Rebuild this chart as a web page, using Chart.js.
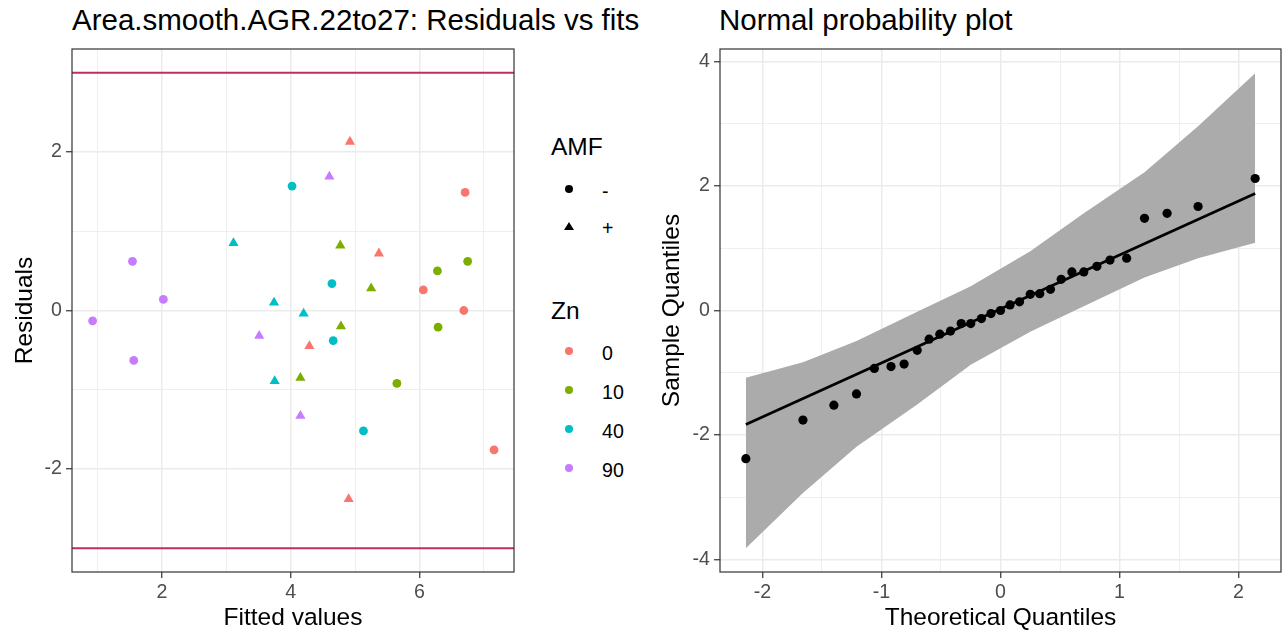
<!DOCTYPE html>
<html>
<head>
<meta charset="utf-8">
<script src="https://cdn.jsdelivr.net/npm/chart.js@4.4.1/dist/chart.umd.min.js"></script>
<style>
  html, body { margin:0; padding:0; background:#ffffff; width:1286px; height:636px; overflow:hidden;
    font-family:"Liberation Sans", Arial, sans-serif; }
  #c1 { position:absolute; left:0; top:0; }
  #c2 { position:absolute; left:640px; top:0; }
  .title { position:absolute; top:2px; font-size:29.5px; line-height:36px; color:#000; white-space:nowrap; }
  .legtitle { position:absolute; left:551px; font-size:24.5px; line-height:30px; color:#000; white-space:nowrap; }
  .leglab { position:absolute; left:602px; font-size:19.6px; line-height:24px; color:#000; white-space:nowrap; }
  .dot { position:absolute; width:8px; height:8px; border-radius:50%; }
  .tri { position:absolute; width:0; height:0; border-left:5px solid transparent; border-right:5px solid transparent; border-bottom:8.5px solid #000; }
</style>
</head>
<body>
<div class="title" style="left:72px;">Area.smooth.AGR.22to27: Residuals vs fits</div>
<div class="title" style="left:719px;">Normal probability plot</div>
<canvas id="c1" width="520" height="636"></canvas>
<canvas id="c2" width="646" height="636"></canvas>
<div id="legend"></div>
<script>
// ---------------- data: residuals vs fits ----------------
const fitted    = [6.71, 6.06, 6.69, 7.16,  4.92, 5.37, 4.29, 4.90,
                   6.75, 6.28, 6.29, 5.65,  4.77, 5.25, 4.78, 4.15,
                   4.02, 4.64, 4.66, 5.13,  3.11, 3.74, 4.20, 3.75,
                   1.54, 2.02, 0.92, 1.56,  4.60, 3.51, 4.15];
const residuals = [1.49, 0.26, 0.00, -1.76, 2.13, 0.72, -0.45, -2.38,
                   0.62, 0.50, -0.21, -0.92, 0.82, 0.28, -0.20, -0.85,
                   1.57, 0.34, -0.38, -1.52, 0.85, 0.10, -0.04, -0.89,
                   0.62, 0.14, -0.13, -0.63, 1.69, -0.32, -1.33];
const znLevel   = ['0','0','0','0','0','0','0','0',
                   '10','10','10','10','10','10','10','10',
                   '40','40','40','40','40','40','40','40',
                   '90','90','90','90','90','90','90'];
const amfLevel  = ['-','-','-','-','+','+','+','+',
                   '-','-','-','-','+','+','+','+',
                   '-','-','-','-','+','+','+','+',
                   '-','-','-','-','+','+','+'];
const znCategories  = ['0','10','40','90'];
const amfCategories = ['-','+'];
const refLines = [-3, 3];

const leftXTicks  = [1,2,3,4,5,6,7];
const leftXLabels = [2,4,6];
const leftYTicks  = [-3,-2,-1,0,1,2,3];
const leftYLabels = [-2,0,2];
const leftXRange  = [0.60, 7.47];
const leftYRange  = [-3.30, 3.30];

// ---------------- data: normal probability plot ----------------
const theoQuantiles = [-2.14,-1.66,-1.40,-1.21,-1.06,-0.92,-0.81,-0.70,-0.60,-0.51,-0.42,-0.33,-0.25,-0.16,-0.08,0.00,
                        0.08, 0.16, 0.25, 0.33, 0.42, 0.51, 0.60, 0.70, 0.81, 0.92, 1.06, 1.21, 1.40, 1.66, 2.14];
const sampleQuantiles = [-2.38,-1.76,-1.52,-1.34,-0.93,-0.90,-0.86,-0.64,-0.46,-0.38,-0.33,-0.21,-0.21,-0.13,-0.05,0.00,
                          0.09, 0.14, 0.26, 0.27, 0.34, 0.50, 0.62, 0.62, 0.71, 0.81, 0.84, 1.48, 1.56, 1.67, 2.12];
const qqLineX = [-2.14, 2.14];
const qqLineY = [-1.83, 1.88];
const bandX     = [-2.14,-1.66,-1.21,-0.70,-0.25, 0.25, 0.70, 1.21, 1.66, 2.14];
const bandUpper = [-1.08,-0.83,-0.49,-0.02, 0.39, 0.95, 1.56, 2.22, 2.96, 3.81];
const bandLower = [-3.82,-2.93,-2.19,-1.51,-0.87,-0.34, 0.07, 0.53, 0.84, 1.09];

const rightXTicks  = [-2,-1.5,-1,-0.5,0,0.5,1,1.5,2];
const rightXLabels = [-2,-1,0,1,2];
const rightYTicks  = [-4,-3,-2,-1,0,1,2,3,4];
const rightYLabels = [-4,-2,0,2,4];
const rightXRange  = [-2.357, 2.357];
const rightYRange  = [-4.20, 4.20];

// ---------------- styles ----------------
const FAMILY = "'Liberation Sans', Arial, sans-serif";
const znColors = {'0':'#F8766D','10':'#7CAE00','40':'#00BFC4','90':'#C77CFF'};
const amfShapes = {'-':'circle','+':'triangle'};
const amfRadius = {'-':4.4,'+':5.9};
Chart.defaults.font.family = FAMILY;

const panelBorder = {
  id: 'panelBorder',
  afterDatasetsDraw(chart) {
    const {ctx, chartArea: a} = chart;
    ctx.save();
    ctx.strokeStyle = '#333333';
    ctx.lineWidth = 1.2;
    ctx.strokeRect(a.left, a.top, a.right - a.left, a.bottom - a.top);
    ctx.restore();
  }
};

function axis(opts) {
  const {range, ticks, labels, title, fitSize, horizontal, titlePad} = opts;
  return {
    type: 'linear',
    min: range[0], max: range[1],
    afterBuildTicks: s => { s.ticks = ticks.map(v => ({value: v})); },
    afterFit: s => { if (horizontal) s.height = fitSize; else s.width = fitSize; },
    ticks: {
      autoSkip: false, maxRotation: 0, padding: horizontal ? 3 : 4,
      color: '#4D4D4D', font: {family: FAMILY, size: 19.6},
      callback: v => labels.includes(v) ? String(v) : ''
    },
    grid: {
      color: '#EBEBEB',
      lineWidth: c => (c.tick && labels.includes(c.tick.value)) ? 1.5 : 0.8,
      drawTicks: true, tickLength: 6,
      tickColor: c => (c.tick && labels.includes(c.tick.value)) ? '#333333' : 'rgba(0,0,0,0)',
      tickWidth: 1.2
    },
    border: {display: false},
    title: {
      display: true, text: title, color: '#000000',
      font: {family: FAMILY, size: 24.5},
      padding: horizontal ? {top: 0, bottom: titlePad} : {top: titlePad, bottom: 0}
    }
  };
}

// ---------------- left chart ----------------
const leftDatasets = [];
refLines.forEach(v => {
  leftDatasets.push({
    type: 'line', showLine: true,
    data: [{x: leftXRange[0], y: v}, {x: leftXRange[1], y: v}],
    borderColor: '#BE2F5F', borderWidth: 2, pointRadius: 0, fill: false, order: 2
  });
});
znCategories.forEach(z => {
  amfCategories.forEach(a => {
    const pts = [];
    fitted.forEach((f, i) => { if (znLevel[i] === z && amfLevel[i] === a) pts.push({x: f, y: residuals[i]}); });
    leftDatasets.push({
      type: 'scatter', data: pts,
      pointStyle: amfShapes[a], pointRadius: amfRadius[a],
      backgroundColor: znColors[z], borderColor: znColors[z], borderWidth: 0,
      order: 1
    });
  });
});

new Chart(document.getElementById('c1'), {
  type: 'scatter',
  data: {datasets: leftDatasets},
  options: {
    responsive: false, animation: false, devicePixelRatio: 1,
    layout: {padding: {top: 49, right: 6, left: 0, bottom: 0}},
    plugins: {legend: {display: false}, tooltip: {enabled: false}, title: {display: false}},
    scales: {
      x: axis({range: leftXRange, ticks: leftXTicks, labels: leftXLabels, title: 'Fitted values', fitSize: 64, horizontal: true, titlePad: 3.3}),
      y: axis({range: leftYRange, ticks: leftYTicks, labels: leftYLabels, title: 'Residuals', fitSize: 72, horizontal: false, titlePad: 10.3})
    }
  },
  plugins: [panelBorder]
});

// ---------------- right chart ----------------
const rightDatasets = [
  {
    type: 'line', showLine: true,
    data: bandX.map((q, i) => ({x: q, y: bandUpper[i]})),
    borderColor: 'rgba(0,0,0,0)', borderWidth: 0, pointRadius: 0,
    backgroundColor: '#ABABAB', fill: '+1', tension: 0, order: 3
  },
  {
    type: 'line', showLine: true,
    data: bandX.map((q, i) => ({x: q, y: bandLower[i]})),
    borderColor: 'rgba(0,0,0,0)', borderWidth: 0, pointRadius: 0,
    backgroundColor: '#ABABAB', fill: false, tension: 0, order: 3
  },
  {
    type: 'line', showLine: true,
    data: qqLineX.map((q, i) => ({x: q, y: qqLineY[i]})),
    borderColor: '#000000', borderWidth: 2.7, pointRadius: 0, fill: false, order: 2
  },
  {
    type: 'scatter',
    data: theoQuantiles.map((q, i) => ({x: q, y: sampleQuantiles[i]})),
    pointStyle: 'circle', pointRadius: 4.6,
    backgroundColor: '#000000', borderColor: '#000000', borderWidth: 0, order: 1
  }
];

new Chart(document.getElementById('c2'), {
  type: 'scatter',
  data: {datasets: rightDatasets},
  options: {
    responsive: false, animation: false, devicePixelRatio: 1,
    layout: {padding: {top: 49, right: 5, left: 0, bottom: 0}},
    plugins: {legend: {display: false}, tooltip: {enabled: false}, title: {display: false}, filler: {propagate: false}},
    scales: {
      x: axis({range: rightXRange, ticks: rightXTicks, labels: rightXLabels, title: 'Theoretical Quantiles', fitSize: 64, horizontal: true, titlePad: 3.3}),
      y: axis({range: rightYRange, ticks: rightYTicks, labels: rightYLabels, title: 'Sample Quantiles', fitSize: 80, horizontal: false, titlePad: 17.3})
    }
  },
  plugins: [panelBorder]
});

// ---------------- legend (HTML text) ----------------
const legend = document.getElementById('legend');
function add(html) { legend.insertAdjacentHTML('beforeend', html); }
add('<div class="legtitle" style="top:131.7px;">AMF</div>');
const amfY = [189.3, 226.7];
amfCategories.forEach((a, i) => {
  const y = amfY[i];
  if (amfShapes[a] === 'circle') add(`<div class="dot" style="left:565.3px;top:${y-4}px;background:#000;"></div>`);
  else add(`<div class="tri" style="left:564.3px;top:${y-5}px;"></div>`);
  add(`<div class="leglab" style="top:${y-12+1.5}px;">${a}</div>`);
});
add('<div class="legtitle" style="top:295.8px;">Zn</div>');
const znY = [351, 390, 429.3, 468.3];
znCategories.forEach((z, i) => {
  const y = znY[i];
  add(`<div class="dot" style="left:565.3px;top:${y-4}px;background:${znColors[z]};"></div>`);
  add(`<div class="leglab" style="top:${y-12+1.5}px;">${z}</div>`);
});
</script>
</body>
</html>
